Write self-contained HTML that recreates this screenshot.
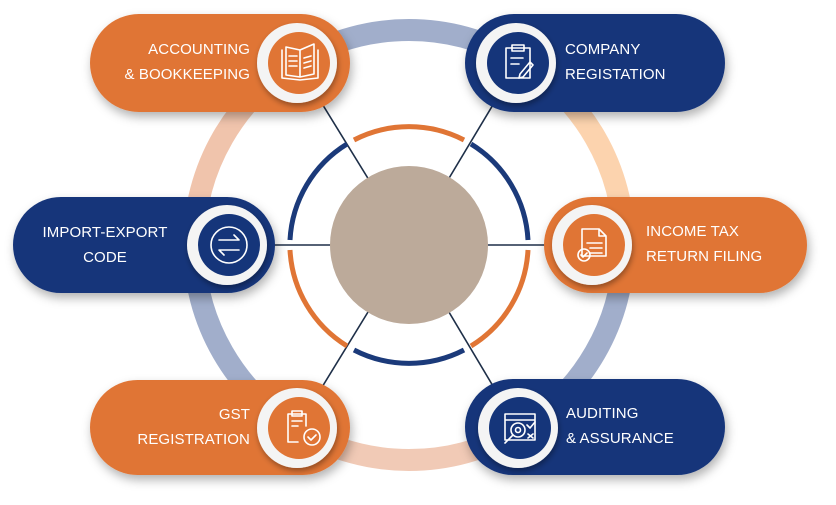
<!DOCTYPE html>
<html><head><meta charset="utf-8"><style>
html,body{margin:0;padding:0;background:#fff;}
body{width:836px;height:505px;overflow:hidden;position:relative;font-family:"Liberation Sans",sans-serif;}
svg{position:absolute;left:0;top:0;}
.t{position:absolute;color:#fff;font-size:15px;line-height:25px;letter-spacing:0.1px;}
</style></head><body>
<svg width="836" height="505" viewBox="0 0 836 505">
<defs>
<filter id="sh" x="-20%" y="-30%" width="140%" height="170%"><feDropShadow dx="2" dy="5" stdDeviation="5" flood-color="#000" flood-opacity="0.3"/></filter>
<filter id="cs" x="-30%" y="-30%" width="160%" height="160%"><feDropShadow dx="1" dy="3" stdDeviation="3" flood-color="#000" flood-opacity="0.35"/></filter>
</defs>
<g fill="none" stroke-width="22">
<path d="M301.5 58.8 A215 215 0 0 1 516.5 58.8" stroke="#a1aecb"/>
<path d="M516.5 58.8 A215 215 0 0 1 624 245" stroke="#fcd3ae"/>
<path d="M624 245 A215 215 0 0 1 516.5 431.2" stroke="#a1aecb"/>
<path d="M516.5 431.2 A215 215 0 0 1 301.5 431.2" stroke="#f1cab6"/>
<path d="M301.5 431.2 A215 215 0 0 1 194 245" stroke="#a1aecb"/>
<path d="M194 245 A215 215 0 0 1 301.5 58.8" stroke="#f0c4ac"/>
</g>
<g stroke="#1e2f48" stroke-width="1.6">
<line x1="409" y1="245" x2="297" y2="63"/><line x1="409" y1="245" x2="518" y2="63"/>
<line x1="409" y1="245" x2="227" y2="245"/><line x1="409" y1="245" x2="592" y2="245"/>
<line x1="409" y1="245" x2="297" y2="428"/><line x1="409" y1="245" x2="518" y2="428"/>
</g>
<g fill="none" stroke-width="5">
<path d="M354 140 A120 120 0 0 1 464 140" stroke="#e07535"/>
<path d="M471 144 A120 120 0 0 1 528 240" stroke="#1b3a7a"/>
<path d="M528 250 A120 120 0 0 1 471 346" stroke="#e07535"/>
<path d="M464 350 A120 120 0 0 1 354 350" stroke="#1b3a7a"/>
<path d="M347 346 A120 120 0 0 1 290 250" stroke="#e07535"/>
<path d="M290 240 A120 120 0 0 1 347 144" stroke="#1b3a7a"/>
</g>
<circle cx="409" cy="245" r="79" fill="#bcaa9a"/>
<g filter="url(#sh)">
<rect x="90" y="14" width="260" height="98" rx="49" fill="#e07535"/>
<rect x="465" y="14" width="260" height="98" rx="49" fill="#15357a"/>
<rect x="13" y="197" width="262" height="96" rx="48" fill="#15357a"/>
<rect x="544" y="197" width="263" height="96" rx="48" fill="#e07535"/>
<rect x="90" y="380" width="260" height="95" rx="47.5" fill="#e07535"/>
<rect x="465" y="379" width="260" height="96" rx="48" fill="#15357a"/>
</g>
<g filter="url(#cs)">
<circle cx="297" cy="63" r="40" fill="#f4f4f4"/>
<circle cx="516" cy="63" r="40" fill="#f4f4f4"/>
<circle cx="227" cy="245" r="40" fill="#f4f4f4"/>
<circle cx="592" cy="245" r="40" fill="#f4f4f4"/>
<circle cx="297" cy="428" r="40" fill="#f4f4f4"/>
<circle cx="518" cy="428" r="40" fill="#f4f4f4"/>
</g>
<circle cx="299" cy="63" r="31" fill="#e07535"/>
<circle cx="518" cy="63" r="31" fill="#15357a"/>
<circle cx="229" cy="245" r="31" fill="#15357a"/>
<circle cx="594" cy="245" r="31" fill="#e07535"/>
<circle cx="299" cy="428" r="31" fill="#e07535"/>
<circle cx="520" cy="428" r="31" fill="#15357a"/>
<g fill="none" stroke="#fff" stroke-width="1.6" stroke-linecap="round" stroke-linejoin="round">
<path d="M282 50 L282 78 L300 80 L318 78 L318 50 M286 47 L286 75 L300 77 M300 50 L300 77 L314 74 L314 44 L300 50 M286 47 L300 50"/>
<path d="M289 56h8M289 61h8M289 66h8M304 58l7-2M304 63l7-2M304 68l7-2"/>
<path d="M506 48h24v30h-24z M512 45h12v6h-12z M511 58h12M511 64h8"/>
<path d="M520 74l10-12 3 3-10 12-4 1z"/>
<circle cx="229" cy="245" r="18"/>
<path d="M219 240h20l-5-5M239 250h-20l5 5"/>
<path d="M582 229h17l7 7v20h-24z M599 229v7h7 M587 243h15M590 248h12M590 253h12"/>
<circle cx="584" cy="255" r="6"/><path d="M581 255l2 2 4-4"/>
<path d="M288 414h18v12 M292 411h10v5h-10z M292 421h10M292 426h6 M288 414v28h10"/>
<circle cx="312" cy="437" r="8"/><path d="M308 437l3 3 5-5"/>
<path d="M505 414h30v26h-30z M505 420h30"/>
<circle cx="518" cy="430" r="7"/><circle cx="518" cy="430" r="2.5"/>
<path d="M513 435l-8 8 M527 425l3 3 5-6 M528 434l5 4M533 434l-5 4"/>
</g>
</svg>
<div class="t" style="right:586px;top:37px;text-align:right;">ACCOUNTING<br>&amp; BOOKKEEPING</div>
<div class="t" style="left:565px;top:37px;">COMPANY<br>REGISTATION</div>
<div class="t" style="left:20px;top:220px;width:170px;text-align:center;">IMPORT-EXPORT<br>CODE</div>
<div class="t" style="left:646px;top:219px;">INCOME TAX<br>RETURN FILING</div>
<div class="t" style="right:586px;top:402px;text-align:right;">GST<br>REGISTRATION</div>
<div class="t" style="left:566px;top:401px;">AUDITING<br>&amp; ASSURANCE</div>
</body></html>
